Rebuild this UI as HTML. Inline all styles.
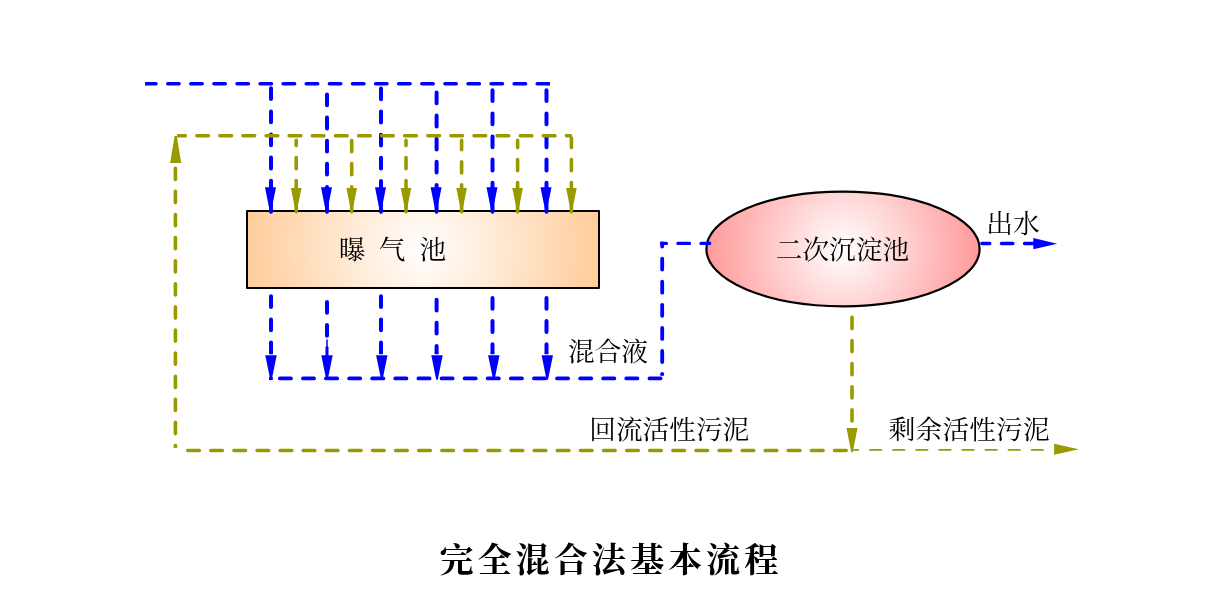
<!DOCTYPE html>
<html lang="zh-CN"><head><meta charset="utf-8"><title>完全混合法基本流程</title>
<style>
html,body{margin:0;padding:0;background:#fff;}
body{width:1213px;height:589px;overflow:hidden;}
svg{display:block;will-change:transform;}
text{font-family:"Liberation Serif","Noto Serif CJK SC",serif;fill:#000;}
</style></head><body>
<svg width="1213" height="589" viewBox="0 0 1213 589">
<defs>
<radialGradient id="g1" gradientUnits="userSpaceOnUse" cx="423" cy="249.3" r="180">
<stop offset="0" stop-color="#ffffff"/><stop offset="1" stop-color="#ffcc99"/>
</radialGradient>
<radialGradient id="g2" gradientUnits="userSpaceOnUse" cx="843" cy="249" r="137">
<stop offset="0" stop-color="#ffffff"/><stop offset="1" stop-color="#ff9999"/>
</radialGradient>
</defs>
<g id="shapes">
<rect x="247" y="211" width="352" height="77" fill="url(#g1)" stroke="#000" stroke-width="2" stroke-linejoin="round"/>
<ellipse cx="843" cy="248.95" rx="136.6" ry="57.35" fill="url(#g2)" stroke="#000" stroke-width="2.2"/>
</g>
<g id="blue">
<path d="M146.8 83.8H156M167.7 83.8H179.1M190.8 83.8H202.2M213.9 83.8H225.3M237 83.8H248.4M260.1 83.8H271.5M283.1 83.8H294.6M306.2 83.8H317.7M329.4 83.8H340.8M352.5 83.8H363.9M375.6 83.8H387M398.6 83.8H410.1M421.8 83.8H433.2M444.9 83.8H456.3M468 83.8H479.4M491.1 83.8H502.5M514.1 83.8H525.6M537.2 83.8H548.3" fill="none" stroke="#0000ff" stroke-width="3.5" stroke-linecap="round"/><path d="M145.1 83.8H146.8M548.2 83.8H550" fill="none" stroke="#0000ff" stroke-width="3.5"/>
<path d="M271 88.3V99.1M271 111.4V122.2M271 134.5V145.3M271 157.6V168.4M271 180.7V188" fill="none" stroke="#0000ff" stroke-width="4.0" stroke-linecap="round"/>
<polygon points="265,187.2 276,187.2 270.8,213.5 270.5,213.7 270.2,213.5" fill="#0000ff"/><path d="M271 188.2V211.8" stroke="#0000ff" stroke-width="3.9" stroke-linecap="round" fill="none"/>
<path d="M271 296.3V307.1M271 319.4V330.2M271 342.5V352.2" fill="none" stroke="#0000ff" stroke-width="4.0" stroke-linecap="round"/><path d="M271 352.2V354.2" fill="none" stroke="#0000ff" stroke-width="4.0"/>
<polygon points="265.3,355.2 276.7,355.2 271.8,379.5 271,380 270.2,379.5" fill="#0000ff"/>
<path d="M327 94.5V105.3M327 117.6V128.4M327 140.7V151.5M327 163.8V174.6M327 186.9V188" fill="none" stroke="#0000ff" stroke-width="4.0" stroke-linecap="round"/>
<polygon points="321,187.2 332,187.2 326.8,213.5 326.5,213.7 326.2,213.5" fill="#0000ff"/><path d="M327 188.2V211.8" stroke="#0000ff" stroke-width="3.9" stroke-linecap="round" fill="none"/>
<path d="M327 301.9V312.7M327 325V335.8" fill="none" stroke="#0000ff" stroke-width="4.0" stroke-linecap="round"/>
<polygon points="321.3,355.2 332.7,355.2 327.8,379.5 327,380 326.2,379.5" fill="#0000ff"/>
<path d="M381 88.5V99.3M381 111.6V122.4M381 134.7V145.5M381 157.8V168.6M381 180.9V188" fill="none" stroke="#0000ff" stroke-width="4.0" stroke-linecap="round"/>
<polygon points="375,187.2 386,187.2 380.8,213.5 380.5,213.7 380.2,213.5" fill="#0000ff"/><path d="M381 188.2V211.8" stroke="#0000ff" stroke-width="3.9" stroke-linecap="round" fill="none"/>
<path d="M381 296.3V307.1M381 319.4V330.2M381 342.5V352.2" fill="none" stroke="#0000ff" stroke-width="4.0" stroke-linecap="round"/><path d="M381 352.2V354.2" fill="none" stroke="#0000ff" stroke-width="4.0"/>
<polygon points="376.1,355.2 387.5,355.2 382.6,379.5 381.8,380 381.1,379.5" fill="#0000ff"/>
<path d="M436.6 92.5V103.3M436.6 115.6V126.4M436.6 138.7V149.5M436.6 161.8V172.6M436.6 184.9V188" fill="none" stroke="#0000ff" stroke-width="4.0" stroke-linecap="round"/>
<polygon points="430.6,187.2 441.6,187.2 436.4,213.5 436.1,213.7 435.9,213.5" fill="#0000ff"/><path d="M436.6 188.2V211.8" stroke="#0000ff" stroke-width="3.9" stroke-linecap="round" fill="none"/>
<path d="M436.6 299.7V310.5M436.6 322.8V333.6M436.6 345.9V352.2" fill="none" stroke="#0000ff" stroke-width="4.0" stroke-linecap="round"/><path d="M436.6 352.2V354.2" fill="none" stroke="#0000ff" stroke-width="4.0"/>
<polygon points="431.3,355.2 442.7,355.2 437.8,379.5 437,380 436.2,379.5" fill="#0000ff"/>
<path d="M492.5 90.3V101.1M492.5 113.4V124.2M492.5 136.5V147.3M492.5 159.6V170.4M492.5 182.7V188" fill="none" stroke="#0000ff" stroke-width="4.0" stroke-linecap="round"/>
<polygon points="486.5,187.2 497.5,187.2 492.2,213.5 492,213.7 491.8,213.5" fill="#0000ff"/><path d="M492.5 188.2V211.8" stroke="#0000ff" stroke-width="3.9" stroke-linecap="round" fill="none"/>
<path d="M492.5 298V308.8M492.5 321.1V331.9M492.5 344.2V352.2" fill="none" stroke="#0000ff" stroke-width="4.0" stroke-linecap="round"/><path d="M492.5 352.2V354.2" fill="none" stroke="#0000ff" stroke-width="4.0"/>
<polygon points="488.1,355.2 499.5,355.2 494.6,379.5 493.8,380 493.1,379.5" fill="#0000ff"/>
<path d="M546.5 90.3V101.1M546.5 113.4V124.2M546.5 136.5V147.3M546.5 159.6V170.4M546.5 182.7V188" fill="none" stroke="#0000ff" stroke-width="4.0" stroke-linecap="round"/>
<polygon points="540.5,187.2 551.5,187.2 546.2,213.5 546,213.7 545.8,213.5" fill="#0000ff"/><path d="M546.5 188.2V211.8" stroke="#0000ff" stroke-width="3.9" stroke-linecap="round" fill="none"/>
<path d="M546.5 298V308.8M546.5 321.1V331.9M546.5 344.2V352.2" fill="none" stroke="#0000ff" stroke-width="4.0" stroke-linecap="round"/><path d="M546.5 352.2V354.2" fill="none" stroke="#0000ff" stroke-width="4.0"/>
<polygon points="541.6,355.2 553,355.2 548,379.5 547.3,380 546.5,379.5" fill="#0000ff"/>
<path d="M327 339.5V348" stroke="#0000ff" stroke-width="1.5" fill="none"/><path d="M327 347.5V356" stroke="#0000ff" stroke-width="3" stroke-linecap="round" fill="none"/>
<path d="M279.8 378.4H291M302.9 378.4H314.1M325.9 378.4H337.2M349.1 378.4H360.3M372.1 378.4H383.4M395.2 378.4H406.5M418.4 378.4H429.6M441.5 378.4H452.7M464.6 378.4H475.8M487.6 378.4H498.9M510.8 378.4H522M533.9 378.4H545.1M557 378.4H568.2M580.1 378.4H591.3M603.1 378.4H614.4M626.2 378.4H637.5M649.4 378.4H660.6" fill="none" stroke="#0000ff" stroke-width="3.7" stroke-linecap="round"/>
<rect x="269" y="377" width="3.8" height="3.1" fill="#0000ff"/>
<path d="M662.2 243.6V246.5M662.2 258.6V269.6M662.2 281.7V292.7M662.2 304.8V315.8M662.2 327.9V338.9M662.2 351V362M662.2 373.9V373.9" fill="none" stroke="#0000ff" stroke-width="3.8" stroke-linecap="round"/><path d="M662.2 241.7V243.6M662.2 373.7V375.6" fill="none" stroke="#0000ff" stroke-width="3.8"/>
<path d="M662 243.4H666.4M677.9 243.4H689.5M701 243.4H709.5" fill="none" stroke="#0000ff" stroke-width="3.3" stroke-linecap="round"/><path d="M660.4 243.4H662M709.5 243.4H711.1" fill="none" stroke="#0000ff" stroke-width="3.3"/>
<path d="M982.2 243.5H989.8M1001.4 243.5H1012.9M1024.5 243.5H1034.4" fill="none" stroke="#0000ff" stroke-width="3.3" stroke-linecap="round"/><path d="M980.6 243.5H982.2" fill="none" stroke="#0000ff" stroke-width="3.3"/>
<polygon points="1033.3,238.1 1033.3,249.3 1057.2,243.7 1057.2,243.7 1057.2,243.7" fill="#0000ff"/>
</g>
<g id="olive">
<path d="M178.9 135.8H185.4M196.8 135.8H208.5M219.8 135.8H231.6M242.9 135.8H254.7M266.1 135.8H277.8M289.1 135.8H300.9M312.2 135.8H324M335.4 135.8H347.1M358.5 135.8H370.2M381.6 135.8H393.3M404.6 135.8H416.4M427.8 135.8H439.5M450.9 135.8H462.6M474 135.8H485.7M497.1 135.8H508.8M520.2 135.8H531.9M543.2 135.8H555M566.4 135.8H570.5" fill="none" stroke="#999900" stroke-width="3.5" stroke-linecap="round"/><path d="M177.2 135.8H178.9" fill="none" stroke="#999900" stroke-width="3.5"/>
<path d="M296.2 140.4V145.6M296.2 157.5V168.7M296.2 180.6V188.2" fill="none" stroke="#999900" stroke-width="3.6" stroke-linecap="round"/>
<polygon points="290.9,188 301.5,188 296.4,213.3 296.2,213.5 295.9,213.3" fill="#999900"/><path d="M296.2 189V211.7" stroke="#999900" stroke-width="3.6" stroke-linecap="round" fill="none"/>
<path d="M351.7 140.5V151.7M351.7 163.6V174.8M351.7 186.7V188.2" fill="none" stroke="#999900" stroke-width="3.6" stroke-linecap="round"/>
<polygon points="346.4,188 357,188 351.9,213.3 351.7,213.5 351.4,213.3" fill="#999900"/><path d="M351.7 189V211.7" stroke="#999900" stroke-width="3.6" stroke-linecap="round" fill="none"/>
<path d="M406 140.4V145.6M406 157.5V168.7M406 180.6V188.2" fill="none" stroke="#999900" stroke-width="3.6" stroke-linecap="round"/>
<polygon points="400.7,188 411.3,188 406.2,213.3 406,213.5 405.8,213.3" fill="#999900"/><path d="M406 189V211.7" stroke="#999900" stroke-width="3.6" stroke-linecap="round" fill="none"/>
<path d="M461.6 140.4V149.8M461.6 161.7V172.9M461.6 184.8V188.2" fill="none" stroke="#999900" stroke-width="3.6" stroke-linecap="round"/>
<polygon points="456.3,188 466.9,188 461.9,213.3 461.6,213.5 461.4,213.3" fill="#999900"/><path d="M461.6 189V211.7" stroke="#999900" stroke-width="3.6" stroke-linecap="round" fill="none"/>
<path d="M517.6 140.4V147.6M517.6 159.5V170.7M517.6 182.6V188.2" fill="none" stroke="#999900" stroke-width="3.6" stroke-linecap="round"/>
<polygon points="512.3,188 522.9,188 517.9,213.3 517.6,213.5 517.4,213.3" fill="#999900"/><path d="M517.6 189V211.7" stroke="#999900" stroke-width="3.6" stroke-linecap="round" fill="none"/>
<path d="M571.4 138V147.6M571.4 159.5V170.7M571.4 182.6V188.2" fill="none" stroke="#999900" stroke-width="3.6" stroke-linecap="round"/>
<polygon points="566.1,188 576.7,188 571.6,213.3 571.4,213.5 571.1,213.3" fill="#999900"/><path d="M571.4 189V211.7" stroke="#999900" stroke-width="3.6" stroke-linecap="round" fill="none"/>
<path d="M175.4 168.3V179.5M175.4 191.4V202.6M175.4 214.5V225.7M175.4 237.6V248.8M175.4 260.7V271.9M175.4 283.8V295M175.4 306.9V318.1M175.4 330V341.2M175.4 353.1V364.3M175.4 376.2V387.4M175.4 399.3V410.5M175.4 422.4V433.6M175.4 445.5V446" fill="none" stroke="#999900" stroke-width="3.6" stroke-linecap="round"/><path d="M175.4 446V447.8" fill="none" stroke="#999900" stroke-width="3.6"/>
<polygon points="170.1,162.9 181.2,162.9 176.8,136.1 174.6,136.1" fill="#999900"/>
<path d="M187.7 450.4H199.4M210.8 450.4H222.5M233.9 450.4H245.6M257 450.4H268.7M280.1 450.4H291.8M303.1 450.4H314.9M326.2 450.4H338M349.4 450.4H361.1M372.5 450.4H384.2M395.6 450.4H407.3M418.6 450.4H430.4M441.8 450.4H453.5M464.9 450.4H476.6M488 450.4H499.7M511.1 450.4H522.8M534.1 450.4H545.9M557.2 450.4H569M580.4 450.4H592.1M603.5 450.4H615.2M626.6 450.4H638.3M649.6 450.4H661.4M672.8 450.4H684.5M695.9 450.4H707.6M719 450.4H730.7M742.1 450.4H753.8M765.1 450.4H776.9M788.2 450.4H800M811.4 450.4H823.1M834.5 450.4H846.2" fill="none" stroke="#999900" stroke-width="3.5" stroke-linecap="round"/>
<path d="M852 317.4V328.6M852 340.5V351.7M852 363.6V374.8M852 386.7V397.9M852 409.8V421" fill="none" stroke="#999900" stroke-width="3.6" stroke-linecap="round"/>
<polygon points="846.5,428.1 857.5,428.1 852.8,452.1 852,452.6 851.2,452.1" fill="#999900"/>
<path d="M853.5 449.9H858.2M870 449.9H881.3M893.1 449.9H904.4M916.2 449.9H927.5M939.2 449.9H950.6M962.4 449.9H973.7M985.5 449.9H996.8M1008.6 449.9H1019.9M1031.7 449.9H1043" fill="none" stroke="#999900" stroke-width="1.9" stroke-linecap="round"/>
<polygon points="1054.1,443.7 1054.1,454.7 1078.8,449.2 1078.8,449.2 1078.8,449.2" fill="#999900"/>
</g>
<g id="labels">
<text x="338.8 365.5 378.8 405.5 419.4" y="259" font-size="26.67" >曝 气 池</text>
<text x="775.8 802.5 829.1 855.8 882.5" y="259" font-size="26.67" >二次沉淀池</text>
<text x="986.2 1012.9" y="232.8" font-size="26.67" >出水</text>
<text x="568 594.7 621.3" y="361.2" font-size="26.67" >混合液</text>
<text x="589.3 616 642.6 669.3 696 722.6" y="438.8" font-size="26.67" >回流活性污泥</text>
<text x="888.7 915.6 942.4 969.2 996.1 1023" y="439" font-size="26.67" >剩余活性污泥</text>
<text x="439.4 477.5 515.6 553.7 591.8 629.9 668 706.1 744.2" y="572" font-size="34.2" font-weight="700">完全混合法基本流程</text>
</g>
</svg>
</body></html>
